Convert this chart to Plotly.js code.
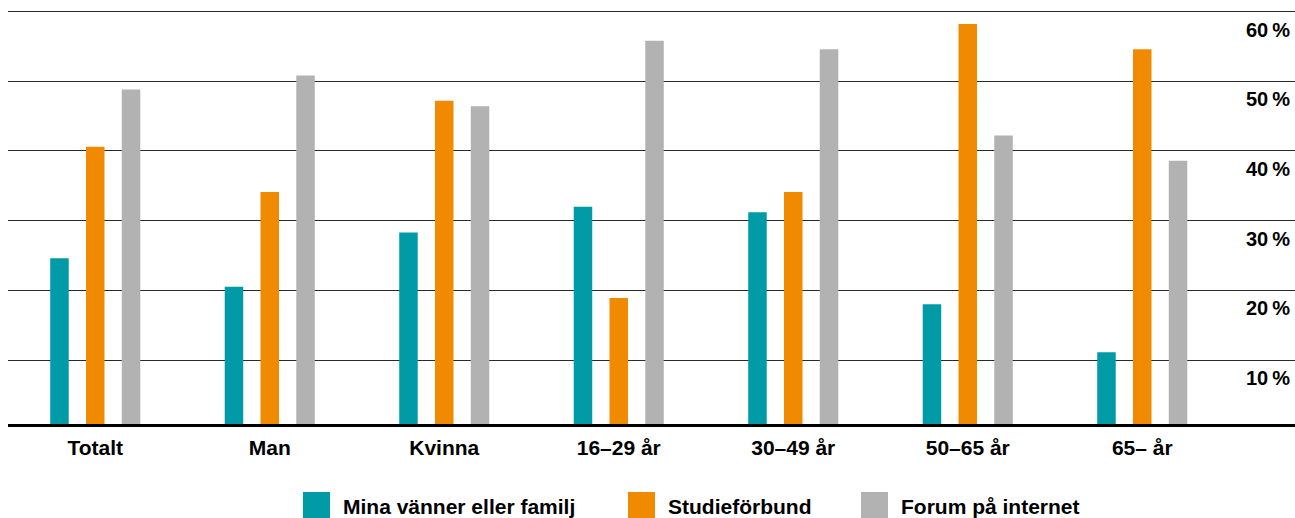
<!DOCTYPE html>
<html>
<head>
<meta charset="utf-8">
<script src="https://cdn.plot.ly/plotly-3.0.1.min.js"></script>
<style>
  html, body { margin: 0; padding: 0; background: #fff; }
  #chart { width: 1295px; height: 518px; }
</style>
</head>
<body>
<div id="chart"></div>
<script>
// ---- Data ----
const categories = ['Totalt', 'Man', 'Kvinna', '16–29 år', '30–49 år', '50–65 år', '65– år'];
const seriesNames = ['Mina vänner eller familj', 'Studieförbund', 'Forum på internet'];
const friendsFamily = [24.6, 20.5, 28.3, 32.0, 31.2, 18.0, 11.1];
const studyAssoc = [40.6, 34.1, 47.2, 18.9, 34.1, 58.2, 54.6];
const internetForum = [48.8, 50.8, 46.4, 55.8, 54.6, 42.2, 38.6];
const tickValues = [10, 20, 30, 40, 50, 60];
const tickLabels = ['10\u2009%', '20\u2009%', '30\u2009%', '40\u2009%', '50\u2009%', '60\u2009%'];

// ---- Styles / layout ----
const colors = ['#009ba6', '#f08a00', '#b2b2b2'];
const seriesValues = [friendsFamily, studyAssoc, internetForum];
const W = 1295, H = 518;
const mL = 8, mR = 0, mT = 0, mB = 94;
const plotW = W - mL - mR, plotH = H - mT - mB;
const barW = 0.106, barGap = 0.205;
const offsets = [-barGap - barW / 2, -barW / 2, barGap - barW / 2];
const fontFam = 'Liberation Sans, Arial, Helvetica, sans-serif';

const traces = seriesValues.map((vals, i) => ({
  type: 'bar',
  name: seriesNames[i],
  x: categories,
  y: vals,
  width: barW,
  offset: offsets[i],
  marker: { color: colors[i], line: { width: 0 } },
  showlegend: false,
  hoverinfo: 'x+y+name'
}));

const px2xp = px => (px - mL) / plotW;
const px2yp = py => (plotH + mT - py) / plotH;

const annotations = tickValues.map((v, i) => ({
  xref: 'paper', yref: 'y', x: 1, y: v,
  xanchor: 'right', yanchor: 'middle', xshift: -3, yshift: -18,
  text: tickLabels[i], showarrow: false,
  font: { family: fontFam, size: 20, color: '#000', weight: 700 }
}));

// custom legend (swatch left edges in pixels)
const legendSwatchX = [303, 628, 861];
const shapes = [];
seriesNames.forEach((name, i) => {
  shapes.push({
    type: 'rect', xref: 'paper', yref: 'paper',
    x0: px2xp(legendSwatchX[i]), x1: px2xp(legendSwatchX[i] + 27),
    y0: px2yp(518), y1: px2yp(492),
    fillcolor: colors[i], line: { width: 0 }
  });
  annotations.push({
    xref: 'paper', yref: 'paper',
    x: px2xp(legendSwatchX[i] + 38), y: px2yp(506),
    xanchor: 'left', yanchor: 'middle',
    text: name, showarrow: false,
    font: { family: fontFam, size: 21, color: '#000', weight: 700 }
  });
});

const layout = {
  width: W, height: H,
  margin: { l: mL, r: mR, t: mT, b: mB, pad: 0 },
  paper_bgcolor: '#fff', plot_bgcolor: '#fff',
  barmode: 'overlay',
  showlegend: false,
  font: { family: fontFam, size: 20, color: '#000' },
  xaxis: {
    type: 'category',
    range: [-0.5, -0.5 + plotW / 174.5],
    showgrid: false, zeroline: false,
    showline: true, linecolor: '#000', linewidth: 3,
    ticks: '', ticklabelstandoff: 3,
    tickfont: { family: fontFam, size: 21, color: '#000', weight: 700 },
    fixedrange: true
  },
  yaxis: {
    range: [(429.7 - 424) / 6.97, 429.7 / 6.97],
    tickvals: tickValues,
    showticklabels: false,
    showgrid: true, gridcolor: '#2a2a2a', gridwidth: 1,
    zeroline: false, showline: false, ticks: '',
    fixedrange: true
  },
  annotations: annotations,
  shapes: shapes
};

Plotly.newPlot('chart', traces, layout, { displayModeBar: false, staticPlot: true });
</script>
</body>
</html>
